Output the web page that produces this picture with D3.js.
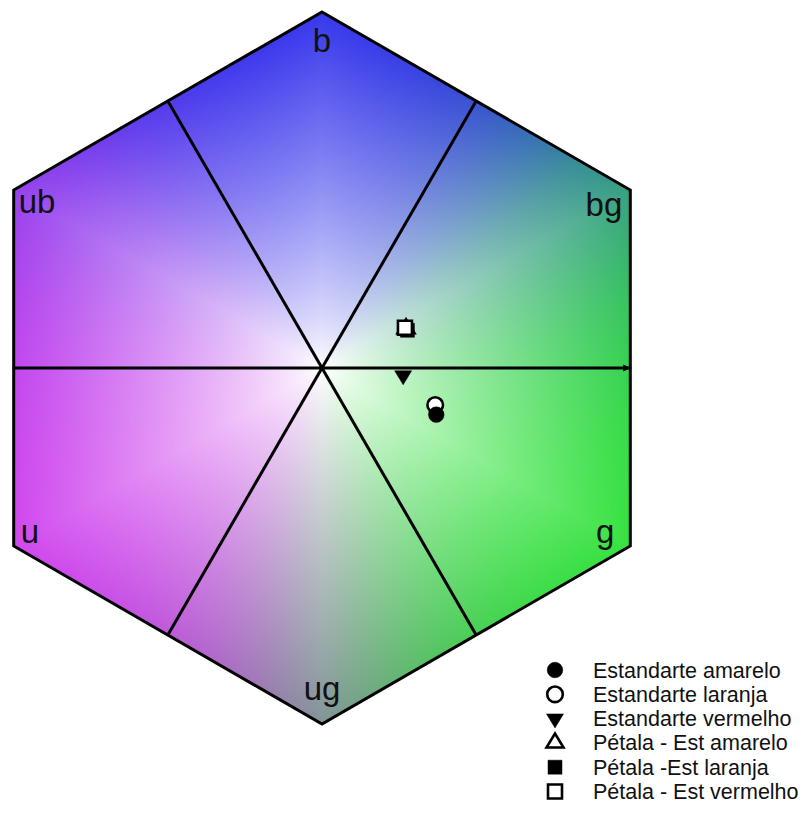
<!DOCTYPE html>
<html>
<head>
<meta charset="utf-8">
<script src="https://cdn.jsdelivr.net/npm/d3@7"></script>
<style>
  html, body { margin: 0; padding: 0; background: #ffffff; }
  svg { display: block; }
  text { font-family: "Liberation Sans", Arial, sans-serif; fill: #111; }
</style>
</head>
<body>
<svg id="chart" width="803" height="821"></svg>
<script>
// Colour hexagon corners (receptor loci)
const vertexLabels = ["b", "bg", "g", "ug", "u", "ub"];
const vertexAngles = [90, 30, -30, -90, -150, 150];

// Receptor primaries used to shade the hexagon (b, g, u), and where each pair blends evenly
const primaryAngles = [90, -30, -150];
const primaryColors = ["#3838ec", "#36e240", "#d048ee"];
const blendMidpoints = [0.43, 0.5, 0.57];

// Loci of the flower parts in hexagon units (x, y)
const seriesNames = [
  "Estandarte amarelo",
  "Estandarte laranja",
  "Estandarte vermelho",
  "Pétala - Est amarelo",
  "Pétala -Est laranja",
  "Pétala - Est vermelho"
];
const seriesX = [0.321, 0.318, 0.228, 0.236, 0.240, 0.233];
const seriesY = [-0.131, -0.104, -0.021, 0.111, 0.106, 0.113];
const seriesSymbols = ["circleFilled", "circleOpen", "triangleDownFilled", "triangleUpOpen", "squareFilled", "squareOpen"];
// drawing order in the plot (open circle under the filled one)
const plotOrder = [3, 1, 0, 2, 4, 5];

const W = 803, H = 821;
const cx = 322, cy = 368, R = 356;

const x = d3.scaleLinear().domain([-1, 1]).range([cx - R, cx + R]);
const y = d3.scaleLinear().domain([-1, 1]).range([cy + R, cy - R]);

const svg = d3.select("#chart");
const rad = a => a * Math.PI / 180;

const vertices = vertexAngles.map(a => [Math.cos(rad(a)), Math.sin(rad(a))]);

// ---- colour field rendered on a canvas and placed in the svg ----
const canvas = document.createElement("canvas");
canvas.width = W; canvas.height = H;
const ctx = canvas.getContext("2d");
const img = ctx.createImageData(W, H);
const prim = primaryColors.map(c => d3.rgb(c));
const apothem = Math.cos(rad(30));
const normals = [0, 60, 120, 180, 240, 300].map(a => [Math.cos(rad(a)), Math.sin(rad(a))]);

// mix of the two neighbouring primaries, changing faster around the in-between corner
const K = 1.8;
function hueAt(deg) {
  const d = (((primaryAngles[0] - deg) % 360) + 360) % 360;   // clockwise from b
  const k = Math.floor(d / 120);
  let s = (d - k * 120) / 120;
  const m = blendMidpoints[k];
  s = s < m ? 0.5 * s / m : 0.5 + 0.5 * (s - m) / (1 - m);
  const sh = 0.5 + 0.5 * Math.tanh(K * (2 * s - 1)) / Math.tanh(K);
  const a = prim[k % 3], b = prim[(k + 1) % 3];
  return [a.r + (b.r - a.r) * sh, a.g + (b.g - a.g) * sh, a.b + (b.b - a.b) * sh];
}

for (let py = 0; py < H; py++) {
  for (let px = 0; px < W; px++) {
    const ux = x.invert(px + 0.5), uy = y.invert(py + 0.5);
    let t = 0;
    for (const n of normals) t = Math.max(t, (ux * n[0] + uy * n[1]) / apothem);
    if (t > 1.02) continue;
    t = Math.min(1, t);
    const ang = Math.atan2(uy, ux) * 180 / Math.PI;
    const c = hueAt(ang);
    const w = Math.pow(t, 0.85);
    const i = (py * W + px) * 4;
    img.data[i] = 255 + (c[0] - 255) * w;
    img.data[i + 1] = 255 + (c[1] - 255) * w;
    img.data[i + 2] = 255 + (c[2] - 255) * w;
    img.data[i + 3] = 255;
  }
}
ctx.putImageData(img, 0, 0);

const hexPath = d3.line().x(d => x(d[0])).y(d => y(d[1])).curve(d3.curveLinearClosed);

svg.append("clipPath").attr("id", "hexClip")
  .append("path").attr("d", hexPath(vertices));

svg.append("image")
  .attr("href", canvas.toDataURL())
  .attr("x", 0).attr("y", 0).attr("width", W).attr("height", H)
  .attr("clip-path", "url(#hexClip)");

// ---- sector lines from the centre to the edge midpoints ----
const mids = normals.map(n => [n[0] * apothem, n[1] * apothem]);
svg.append("g").selectAll("line").data(mids).join("line")
  .attr("x1", x(0)).attr("y1", y(0))
  .attr("x2", d => x(d[0])).attr("y2", d => y(d[1]))
  .attr("stroke", "#000").attr("stroke-width", 3);

// small arrow tip on the horizontal axis
svg.append("path")
  .attr("d", `M${x(apothem) - 7},${y(0) - 3.5} L${x(apothem)},${y(0)} L${x(apothem) - 7},${y(0) + 3.5} Z`)
  .attr("fill", "#000");

// ---- hexagon outline ----
svg.append("path").attr("d", hexPath(vertices))
  .attr("fill", "none").attr("stroke", "#000").attr("stroke-width", 3)
  .attr("stroke-linejoin", "miter");

// ---- corner labels ----
const labelPlace = {
  b:  {dx: 0,   dy: 40,  anchor: "middle"},
  bg: {dx: -8,  dy: 26,  anchor: "end"},
  g:  {dx: -16, dy: -3,  anchor: "end"},
  ug: {dx: 0,   dy: -24, anchor: "middle"},
  u:  {dx: 7,   dy: -3,  anchor: "start"},
  ub: {dx: 5,   dy: 23,  anchor: "start"}
};
svg.append("g").selectAll("text").data(vertexLabels).join("text")
  .attr("x", (d, i) => x(vertices[i][0]) + labelPlace[d].dx)
  .attr("y", (d, i) => y(vertices[i][1]) + labelPlace[d].dy)
  .attr("text-anchor", d => labelPlace[d].anchor)
  .attr("font-size", 33)
  .text(d => d);

// ---- marker shapes ----
function markerPath(kind) {
  if (kind.startsWith("circle")) return d3.symbol(d3.symbolCircle, Math.PI * 7.8 * 7.8)();
  if (kind.startsWith("square")) return d3.symbol(d3.symbolSquare, 14 * 14)();
  const w = 17, h = 14;
  if (kind.startsWith("triangleDown")) return `M${-w / 2},${-h / 3}L${w / 2},${-h / 3}L0,${2 * h / 3}Z`;
  return `M${-w / 2},${h / 3}L${w / 2},${h / 3}L0,${-2 * h / 3}Z`;
}
function styleMarker(sel) {
  sel.attr("d", i => markerPath(seriesSymbols[i]))
    .attr("fill", i => seriesSymbols[i].endsWith("Filled") ? "#000" : "#fff")
    .attr("stroke", "#000")
    .attr("stroke-width", i => seriesSymbols[i].endsWith("Filled") ? 0.5 : 2.6)
    .attr("stroke-linejoin", "miter");
}

svg.append("g").selectAll("path").data(plotOrder).join("path")
  .attr("transform", i => `translate(${x(seriesX[i])},${y(seriesY[i])})`)
  .call(styleMarker);

// ---- legend ----
const legend = svg.append("g").attr("transform", "translate(555,670)");
const rowH = 24.3;
legend.selectAll("path").data(d3.range(seriesNames.length)).join("path")
  .attr("transform", i => `translate(0,${i * rowH})`)
  .call(styleMarker);
legend.selectAll("text").data(seriesNames).join("text")
  .attr("x", 38).attr("y", (d, i) => i * rowH)
  .attr("dy", "0.35em")
  .attr("font-size", 21.5)
  .text(d => d);
</script>
</body>
</html>
